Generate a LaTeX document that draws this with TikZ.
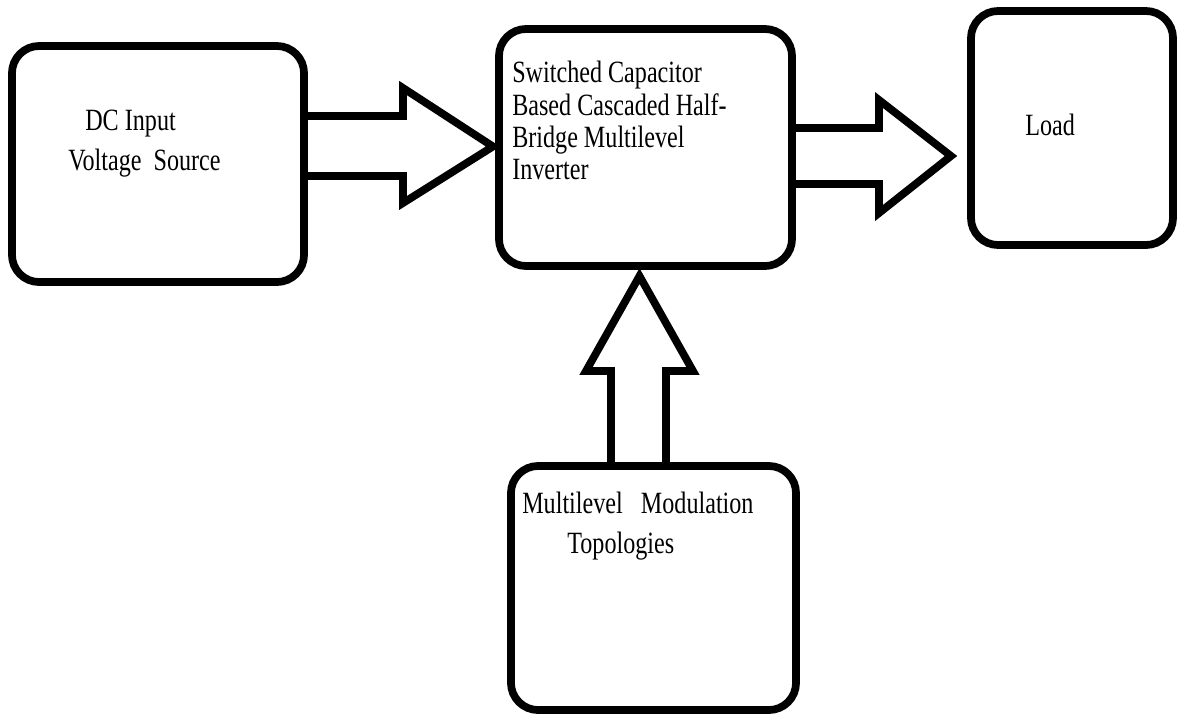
\documentclass[tikz,border=0pt]{standalone}
\usepackage{fontspec}
\setmainfont{Liberation Serif}[FakeStretch=0.78]
\usetikzlibrary{calc}

\begin{document}
\begin{tikzpicture}[x=0.025cm, y=-0.025cm]
	\tikzstyle{block} = [ draw, rectangle, rounded corners=0.68cm, line width=5.5pt, inner sep=0, outer sep=0];
	\tikzstyle{info} = [ font={\fontsize{22}{23}\selectfont}, align=left, inner sep=0, anchor=north west];
	\tikzstyle{fat} = [ draw, line width=5.5pt, line join=miter];

	\useasboundingbox (0,0) rectangle (1180,717);

	\node[block, minimum width=7.3cm, minimum height=5.9cm] (dc) at (158,164) {};
	\node[block, minimum width=7.325cm, minimum height=5.925cm] (inv) at (645.5,147.5) {};
	\node[block, minimum width=5.05cm, minimum height=5.85cm] (load) at (1072,128) {};
	\node[block, minimum width=7.125cm, minimum height=6.1cm] (mod) at (653.5,588) {};

	\node[info] (dctxt) at (68,110) {\hspace*{0.425cm}DC Input\\[5.5pt]Voltage\ \ Source};
	\node[info] (invtxt) at (512,61) {Switched Capacitor\\Based Cascaded Half-\\Bridge Multilevel\\Inverter};
	\node[info] (loadtxt) at (1025,114) {Load};
	\node[info] (modtxt) at (522,492) {Multilevel\ \ \ Modulation\\[5.5pt]\hspace*{1.125cm}Topologies};

	% block arrows
	\draw[fat] (dc.east |- 0,116) -- (403,116) -- (403,88) -- ($(inv.west)+(-6,-1)$) -- (403,203) -- (403,176) -- (dc.east |- 0,176);
	\draw[fat] (inv.east |- 0,128) -- (879,128) -- (879,100) -- ($(load.west)+(-20,28)$) -- (879,213) -- (879,184) -- (inv.east |- 0,184);
	\draw[fat] (mod.north -| 611,0) -- (611,371) -- (586,371) -- ($(inv.south)+(-6,10)$) -- (693,371) -- (666,371) -- (mod.north -| 666,0);
\end{tikzpicture}
\end{document}
